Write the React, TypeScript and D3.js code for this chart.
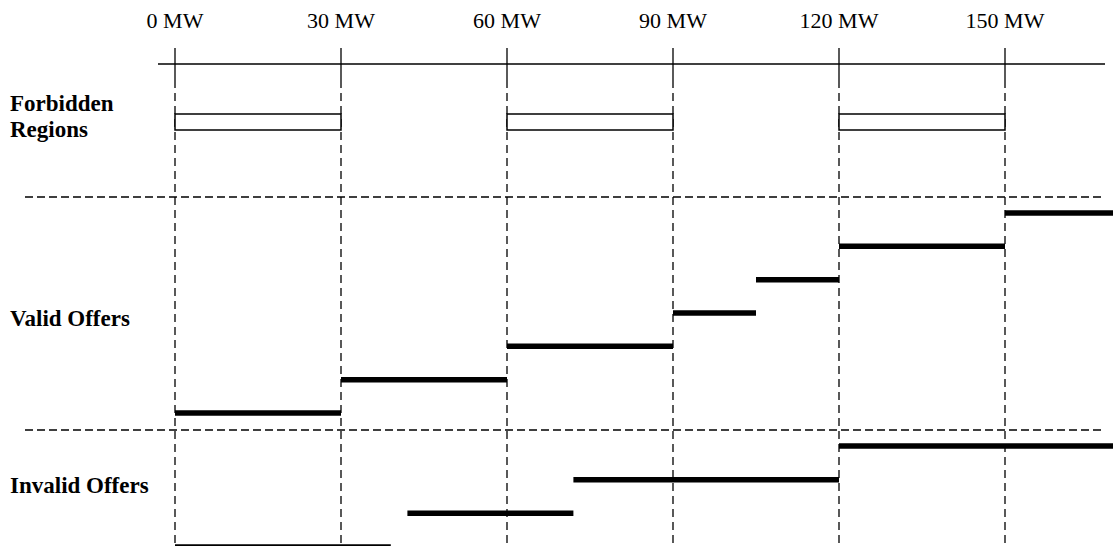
import React from 'react';
import * as d3 from 'd3';

// MW positions along the top axis
const tickMW = [0, 30, 60, 90, 120, 150];

// Forbidden operating regions (MW)
const forbiddenStart = [0, 60, 120];
const forbiddenEnd = [30, 90, 150];

// Valid offer steps: MW start / end and price level
const validStart = [0, 30, 60, 90, 105, 120, 150];
const validEnd = [30, 60, 90, 105, 120, 150, 170];
const validPrice = [1, 2, 3, 4, 5, 6, 7];

// Invalid offer steps
const invalidStart = [0, 42, 72, 120];
const invalidEnd = [39, 72, 120, 170];
const invalidPrice = [1, 2, 3, 4];

const rowLabels = [
  { lines: ['Forbidden', 'Regions'], y: 111 },
  { lines: ['Valid Offers'], y: 326 },
  { lines: ['Invalid Offers'], y: 493 },
];

const width = 1113;
const height = 546;

const App: React.FC = () => {
  const x = d3.scaleLinear().domain([0, 150]).range([175, 1005]);
  const yValid = d3.scaleLinear().domain([1, 7]).range([413, 213]);
  const yInvalid = d3.scaleLinear().domain([1, 4]).range([547, 446]);

  const serif = '"Liberation Serif", "Times New Roman", serif';

  return (
    <svg
      width={width}
      height={height}
      style={{ position: 'absolute', left: 0, top: 0, background: '#fff' }}
      fontFamily={serif}
    >
      {/* tick labels */}
      {tickMW.map(d => (
        <text key={'t' + d} x={x(d)} y={28} textAnchor="middle" fontSize={22} fill="#000">
          {d} MW
        </text>
      ))}

      {/* top axis line */}
      <line x1={158} x2={1105} y1={64} y2={64} stroke="#000" strokeWidth={1.3} />

      {/* tick marks (solid) and gridlines (dashed) */}
      {tickMW.map(d => (
        <g key={'g' + d}>
          <line x1={x(d)} x2={x(d)} y1={48} y2={80} stroke="#000" strokeWidth={1.3} />
          <line
            x1={x(d)}
            x2={x(d)}
            y1={80}
            y2={height}
            stroke="#000"
            strokeWidth={1.3}
            strokeDasharray="8,5"
          />
        </g>
      ))}

      {/* row separators */}
      {[197, 430].map(y => (
        <line key={'s' + y} x1={25} x2={1103} y1={y} y2={y} stroke="#000" strokeWidth={1.3} strokeDasharray="8,4" />
      ))}

      {/* forbidden regions */}
      {forbiddenStart.map((s, i) => (
        <rect
          key={'f' + i}
          x={x(s)}
          y={114}
          width={x(forbiddenEnd[i]) - x(s)}
          height={16}
          fill="#fff"
          stroke="#000"
          strokeWidth={1.5}
        />
      ))}

      {/* valid offers */}
      {validStart.map((s, i) => (
        <line
          key={'v' + i}
          x1={x(s)}
          x2={x(validEnd[i])}
          y1={yValid(validPrice[i])}
          y2={yValid(validPrice[i])}
          stroke="#000"
          strokeWidth={5.5}
        />
      ))}

      {/* invalid offers */}
      {invalidStart.map((s, i) => (
        <line
          key={'i' + i}
          x1={x(s)}
          x2={x(invalidEnd[i])}
          y1={yInvalid(invalidPrice[i])}
          y2={yInvalid(invalidPrice[i])}
          stroke="#000"
          strokeWidth={5.5}
        />
      ))}

      {/* row labels */}
      {rowLabels.map(r => (
        <text key={r.lines[0]} x={10} y={r.y} fontSize={23} fontWeight="bold" fill="#000">
          {r.lines.map((l, j) => (
            <tspan key={l} x={10} dy={j === 0 ? 0 : 26}>
              {l}
            </tspan>
          ))}
        </text>
      ))}
    </svg>
  );
};

export default App;
